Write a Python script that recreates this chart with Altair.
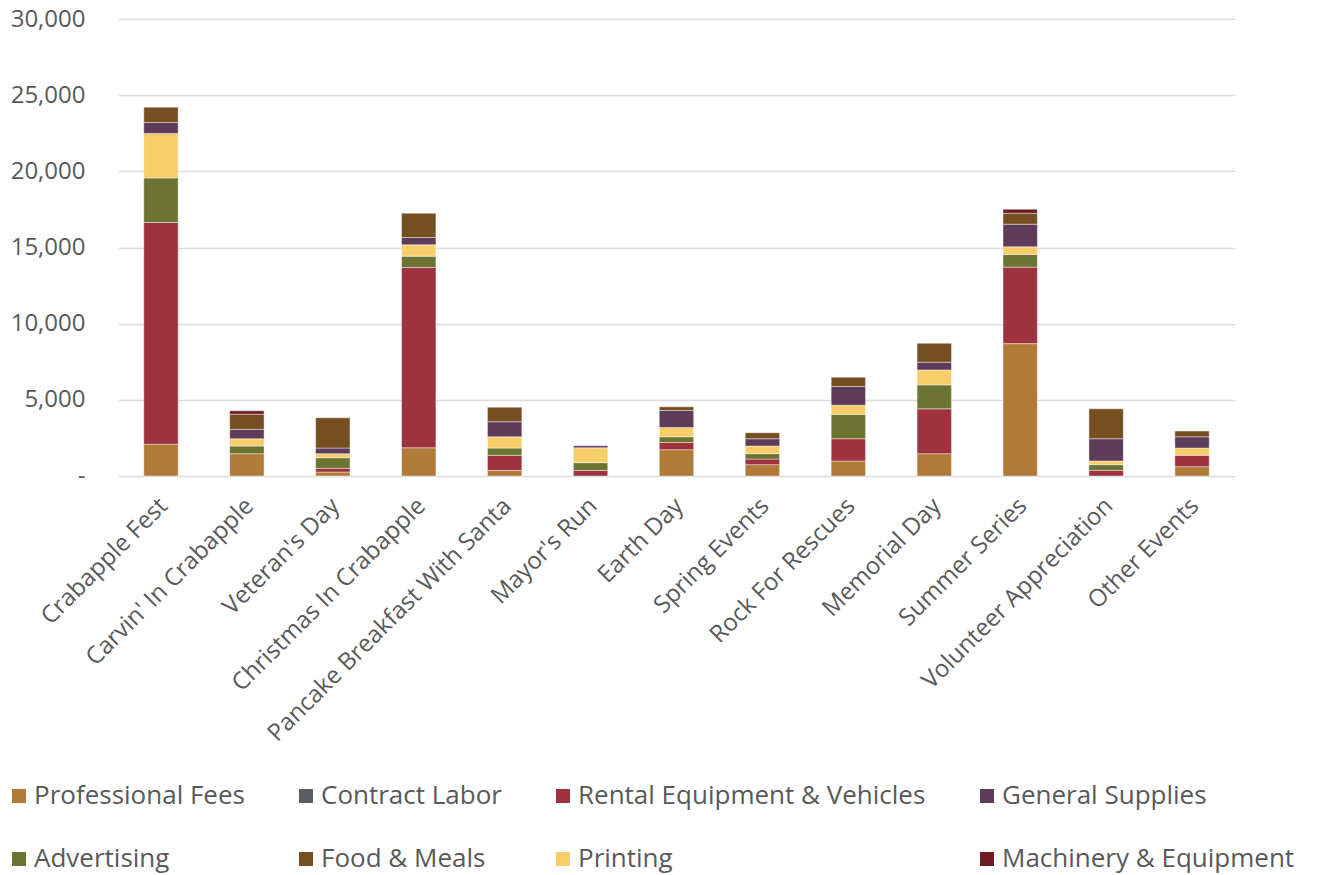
import altair as alt
import pandas as pd

categories = ["Crabapple Fest", "Carvin' In Crabapple", "Veteran's Day", "Christmas In Crabapple",
              "Pancake Breakfast With Santa", "Mayor's Run", "Earth Day", "Spring Events",
              "Rock For Rescues", "Memorial Day", "Summer Series", "Volunteer Appreciation",
              "Other Events"]

professional_fees = [2080, 1460, 260, 1855, 370, 0, 1725, 745, 985, 1465, 8690, 0, 610]
contract_labor = [0, 0, 0, 0, 0, 0, 0, 0, 0, 0, 0, 0, 0]
rental_equipment = [14560, 0, 245, 11835, 985, 370, 480, 370, 1460, 2945, 5020, 370, 745]
advertising = [2930, 505, 695, 740, 480, 505, 370, 350, 1595, 1570, 830, 375, 0]
printing = [2920, 480, 265, 745, 740, 980, 615, 500, 610, 985, 505, 240, 480]
general_supplies = [720, 615, 370, 480, 985, 135, 1110, 480, 1225, 505, 1485, 1460, 740]
food_meals = [1000, 1000, 1985, 1595, 960, 0, 240, 395, 610, 1240, 720, 1965, 375]
machinery = [0, 220, 0, 0, 0, 0, 0, 0, 0, 0, 260, 0, 0]

legend_order = ["Professional Fees", "Contract Labor", "Rental Equipment & Vehicles", "General Supplies",
                "Advertising", "Food & Meals", "Printing", "Machinery & Equipment"]
legend_colors = ["#B07A38", "#5A5F66", "#9E323F", "#5E3B58",
                 "#6B7431", "#754F22", "#F8CE6B", "#6E1A21"]
y_ticks = [0, 5000, 10000, 15000, 20000, 25000, 30000]

series = [
    ("Professional Fees", professional_fees),
    ("Contract Labor", contract_labor),
    ("Rental Equipment & Vehicles", rental_equipment),
    ("Advertising", advertising),
    ("Printing", printing),
    ("General Supplies", general_supplies),
    ("Food & Meals", food_meals),
    ("Machinery & Equipment", machinery),
]

rows = []
for idx, (name, vals) in enumerate(series):
    for cat, v in zip(categories, vals):
        if v > 0:
            rows.append({"event": cat, "category": name, "amount": v, "stack": idx})
df = pd.DataFrame(rows)

text_color = "#595959"

chart = alt.Chart(df).mark_bar(stroke="#FFFFFF", strokeWidth=0.6, strokeOpacity=0.7).encode(
    x=alt.X("event:N", sort=categories,
            scale=alt.Scale(paddingInner=0.6, paddingOuter=0.3),
            axis=alt.Axis(title=None, labelAngle=-45, labelAlign="right", labelBaseline="middle",
                          labelFontSize=24, labelFont="Open Sans", labelColor=text_color,
                          ticks=False, tickSize=0, domain=False, labelPadding=26, labelOffset=3,
                          labelLimit=0)),
    y=alt.Y("amount:Q", stack="zero",
            scale=alt.Scale(domain=[0, 30000], nice=False),
            axis=alt.Axis(title=None, values=y_ticks,
                          labelExpr="datum.value == 0 ? '-' : format(datum.value, ',')",
                          labelFontSize=24, labelFont="Open Sans", labelColor=text_color,
                          ticks=False, tickSize=0, domain=False, labelPadding=33,
                          grid=True, gridColor="#DCDCDC", gridWidth=1.5)),
    color=alt.Color("category:N",
                    scale=alt.Scale(domain=legend_order, range=legend_colors),
                    legend=alt.Legend(title=None, orient="none", legendX=-112, legendY=764,
                                      direction="horizontal", columns=4, symbolType="square",
                                      symbolSize=196, symbolStrokeWidth=0, labelFontSize=26,
                                      labelFont="Open Sans", labelColor=text_color, labelOffset=2,
                                      rowPadding=37, columnPadding=48, padding=0, labelLimit=0)),
    order=alt.Order("stack:Q", sort="ascending"),
).properties(
    width=1117, height=457,
    padding={"left": 118, "top": 19, "right": 87, "bottom": 399},
    autosize="none",
).configure_view(stroke=None)

chart.save("out.html", embed_options={"renderer": "svg", "actions": False})
